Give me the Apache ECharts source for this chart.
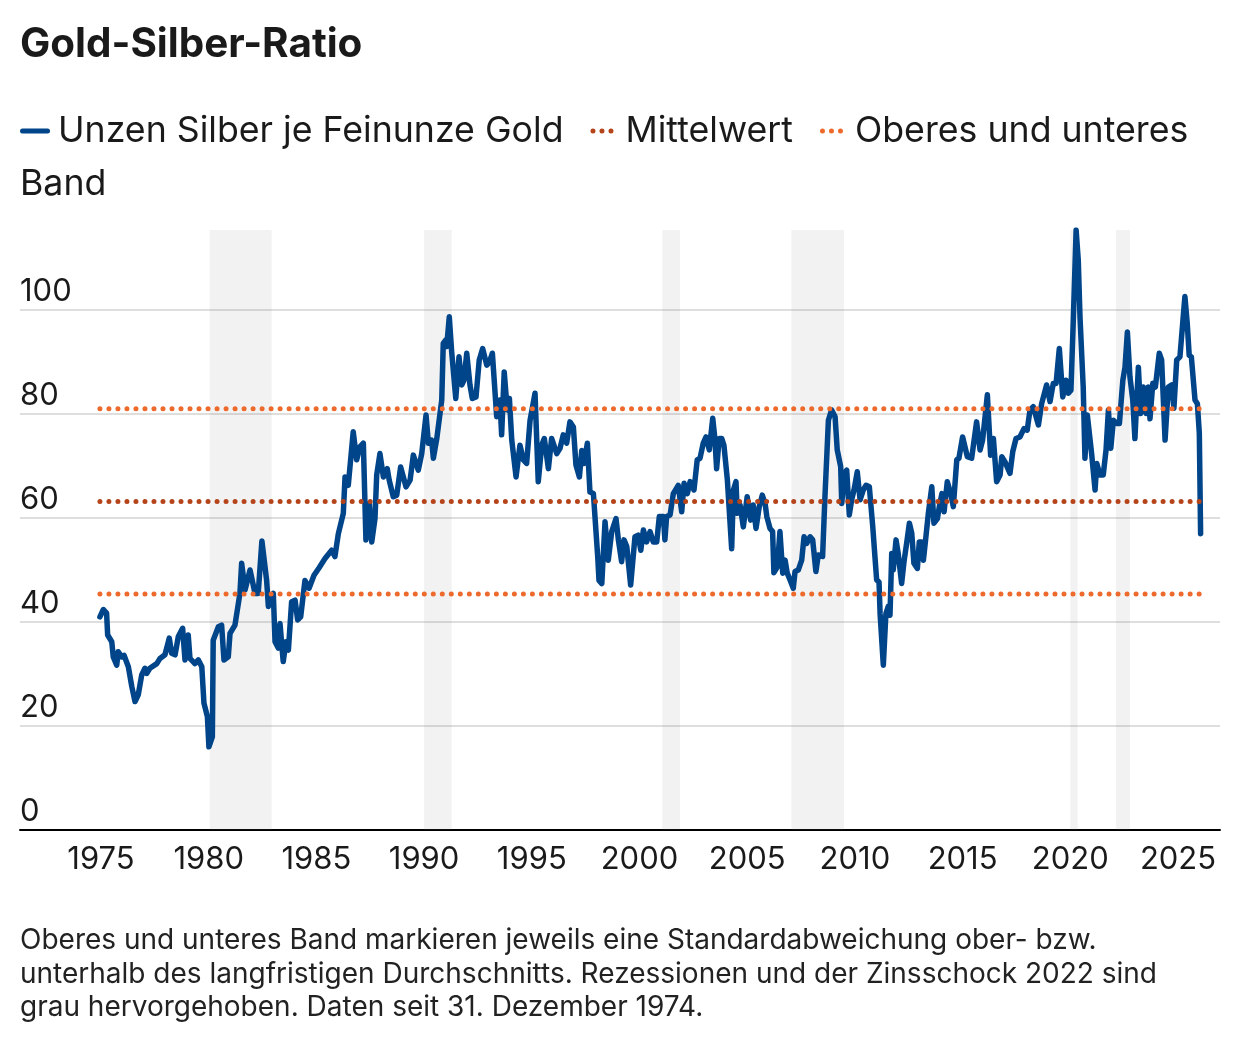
<!DOCTYPE html>
<html>
<head>
<meta charset="utf-8">
<style>
html,body{margin:0;padding:0;background:#fff;}
#chart{width:1240px;height:1046px;}
</style>
<script src="https://cdn.jsdelivr.net/npm/echarts@6/dist/echarts.min.js"></script>
</head>
<body>
<div id="chart"></div>
<script>
// ---- Data ----
const titleText = 'Gold-Silber-Ratio';
const seriesNames = ['Unzen Silber je Feinunze Gold', 'Mittelwert', 'Oberes und unteres Band'];
const footnote = 'Oberes und unteres Band markieren jeweils eine Standardabweichung ober- bzw.\nunterhalb des langfristigen Durchschnitts. Rezessionen und der Zinsschock 2022 sind\ngrau hervorgehoben. Daten seit 31. Dezember 1974.';
const xTickLabels = [1975, 1980, 1985, 1990, 1995, 2000, 2005, 2010, 2015, 2020, 2025];

// decimal year, ounces of silver per ounce of gold
const ratioYears = [
1974.95,1975.11,1975.26,1975.31,1975.50,1975.57,1975.73,1975.80,1975.96,1976.07,1976.27,1976.43,1976.58,1976.73,1976.89,
1977.04,1977.12,1977.27,1977.59,1977.74,1977.97,1978.17,1978.28,1978.44,1978.59,1978.79,1978.90,1979.05,1979.13,1979.36,
1979.52,1979.68,1979.78,1979.94,1980.01,1980.17,1980.21,1980.45,1980.60,1980.71,1980.91,1980.99,1981.22,1981.45,1981.53,
1981.69,1981.92,1982.15,1982.30,1982.47,1982.69,1982.77,1983.00,1983.08,1983.23,1983.31,1983.46,1983.59,1983.70,1983.85,
1984.01,1984.13,1984.27,1984.47,1984.66,1984.89,1985.12,1985.40,1985.71,1985.86,1986.02,1986.25,1986.33,1986.48,1986.71,
1986.87,1987.02,1987.18,1987.30,1987.46,1987.57,1987.72,1987.80,1987.95,1988.11,1988.29,1988.38,1988.57,1988.73,1988.91,
1989.16,1989.35,1989.50,1989.73,1989.89,1990.09,1990.20,1990.35,1990.43,1990.59,1990.82,1990.89,1991.00,1991.05,1991.17,
1991.28,1991.47,1991.62,1991.75,1991.85,1991.98,1992.13,1992.24,1992.41,1992.56,1992.72,1992.91,1993.03,1993.17,1993.37,
1993.52,1993.60,1993.72,1993.86,1993.96,1994.07,1994.27,1994.45,1994.61,1994.76,1994.92,1995.15,1995.30,1995.46,1995.58,
1995.77,1995.92,1996.16,1996.31,1996.46,1996.62,1996.77,1996.93,1997.05,1997.21,1997.32,1997.42,1997.58,1997.70,1997.86,
1998.06,1998.12,1998.25,1998.40,1998.55,1998.71,1998.91,1999.02,1999.17,1999.28,1999.41,1999.59,1999.79,1999.94,2000.06,
2000.18,2000.33,2000.49,2000.64,2000.80,2000.92,2001.11,2001.18,2001.26,2001.42,2001.57,2001.80,2001.96,2002.07,2002.22,
2002.35,2002.53,2002.68,2002.81,2002.96,2003.09,2003.24,2003.40,2003.50,2003.58,2003.70,2003.82,2003.92,2004.08,2004.28,
2004.36,2004.48,2004.54,2004.67,2004.82,2005.00,2005.16,2005.28,2005.41,2005.56,2005.70,2005.83,2005.91,2006.06,2006.18,
2006.24,2006.40,2006.52,2006.65,2006.76,2006.86,2006.99,2007.14,2007.22,2007.37,2007.53,2007.64,2007.76,2007.92,2008.04,
2008.19,2008.30,2008.50,2008.61,2008.77,2008.92,2009.08,2009.18,2009.34,2009.39,2009.51,2009.62,2009.74,2009.85,2009.96,
2010.11,2010.24,2010.39,2010.52,2010.67,2010.83,2010.93,2011.01,2011.12,2011.17,2011.32,2011.44,2011.55,2011.63,2011.71,
2011.78,2011.91,2012.01,2012.17,2012.28,2012.40,2012.53,2012.64,2012.74,2012.90,2012.99,2013.10,2013.18,2013.29,2013.41,
2013.57,2013.67,2013.83,2013.92,2014.04,2014.14,2014.29,2014.45,2014.57,2014.73,2014.83,2015.00,2015.22,2015.42,2015.65,
2015.81,2015.93,2016.15,2016.30,2016.43,2016.58,2016.74,2016.82,2016.97,2017.20,2017.33,2017.48,2017.66,2017.85,2018.00,
2018.13,2018.28,2018.52,2018.67,2018.90,2019.06,2019.21,2019.34,2019.49,2019.65,2019.80,2019.91,2020.03,2020.14,2020.27,
2020.37,2020.45,2020.53,2020.60,2020.68,2020.79,2020.88,2020.99,2021.15,2021.23,2021.38,2021.53,2021.66,2021.77,2021.88,
2022.00,2022.16,2022.28,2022.44,2022.54,2022.65,2022.77,2022.90,2023.00,2023.16,2023.27,2023.39,2023.52,2023.62,2023.70,
2023.83,2023.95,2024.13,2024.24,2024.40,2024.55,2024.71,2024.81,2024.94,2025.09,2025.32,2025.43,2025.52,2025.62,2025.79,
2025.90,2025.99,2026.05
];
const ratioValues = [
41.0,42.4,41.7,37.5,36.2,33.3,31.7,34.3,33.3,33.6,31.4,27.6,24.7,26.0,29.8,
31.1,30.1,31.1,32.0,33.0,33.7,36.9,34.0,33.7,37.2,38.8,32.7,37.5,33.0,32.0,
32.7,31.4,24.4,21.8,16.0,17.9,36.5,39.1,39.4,32.7,33.3,37.8,39.4,45.5,51.3,
46.2,50.0,45.5,45.5,55.6,48.0,43.0,45.5,36.2,35.0,39.7,32.4,36.2,34.6,43.9,
44.2,40.4,41.0,48.0,46.5,49.0,50.4,52.2,53.8,52.6,57.0,60.9,67.9,66.3,76.6,
71.2,73.7,74.4,55.8,62.8,55.4,59.9,68.3,72.4,67.9,69.5,67.3,64.1,64.4,69.8,
66.0,67.3,72.1,69.2,72.4,79.8,74.4,75.0,71.5,75.3,82.7,93.6,94.2,93.0,98.7,
92.0,83.0,91.0,85.6,86.5,91.7,85.6,83.0,83.3,90.4,92.6,89.4,90.0,91.7,79.5,
82.7,76.0,88.1,80.8,83.0,75.0,67.9,74.0,71.2,70.5,78.8,84.0,67.0,74.0,75.3,
69.5,75.3,72.4,73.4,76.0,74.4,78.5,77.5,70.2,67.9,73.0,70.5,74.4,65.0,64.7,
52.6,48.0,47.4,59.3,51.9,57.4,59.9,55.8,51.6,55.8,54.5,47.1,56.4,56.7,53.8,
57.7,55.4,57.4,55.4,55.4,60.3,60.3,55.8,60.3,60.6,64.7,66.3,61.2,66.7,64.7,
67.0,65.4,71.2,71.5,74.4,75.6,73.1,79.2,75.3,69.5,75.3,75.3,74.0,67.3,54.1,
65.4,67.0,60.9,62.5,58.3,64.1,59.6,62.5,58.0,62.2,64.4,62.8,60.3,58.0,57.4,
49.5,50.6,57.4,49.4,51.9,49.4,48.1,46.5,49.7,50.0,51.9,56.4,55.1,56.4,55.8,
49.7,52.9,52.6,64.1,78.8,80.8,79.5,73.1,69.9,62.8,68.6,69.2,60.6,63.5,65.4,
68.9,63.5,65.4,66.3,66.0,58.3,52.6,48.1,47.7,41.6,31.7,41.6,43.0,41.3,53.2,
50.0,55.8,53.2,47.4,51.6,55.1,59.0,57.1,51.3,50.3,55.4,55.4,51.9,56.1,60.9,
66.0,59.0,59.9,62.2,64.7,61.2,67.0,64.7,62.2,71.2,71.5,75.6,71.8,71.5,78.5,
73.1,75.0,83.7,72.1,75.3,67.0,68.3,71.8,70.8,68.6,72.8,75.3,75.6,77.2,76.9,
80.8,81.4,77.9,82.0,85.6,82.4,85.9,85.9,92.6,83.3,86.5,84.0,84.6,98.1,115.4,
109.6,98.7,99.0,85.2,71.5,79.8,79.5,72.4,65.4,70.5,68.3,68.3,73.1,80.8,73.4,
78.8,78.2,78.2,86.5,89.0,95.8,87.1,82.7,75.3,89.0,80.1,85.2,80.1,85.2,79.1,
85.9,85.2,91.7,90.4,75.0,85.2,85.6,81.1,90.4,91.0,102.6,97.4,91.3,91.0,82.7,
82.0,76.3,57.0
];
const meanValue = 63.2;
const upperBand = 81.0;
const lowerBand = 45.4;
// recessions and 2022 rate shock [start, end] in decimal years
const greyPeriods = [
  [1980.05, 1982.92],
  [1990.00, 1991.28],
  [2001.06, 2001.88],
  [2007.05, 2009.49],
  [2020.00, 2020.34],
  [2022.12, 2022.77]
];

// ---- Build ----
const FONT = 'Inter, "Noto Sans", sans-serif';
const TXT = '#1a1a1a';
const firstYear = ratioYears[0];
const lastYear = ratioYears[ratioYears.length - 1];
const ratioData = ratioYears.map((y, i) => [y, ratioValues[i]]);
const flat = v => [[firstYear, v], [lastYear, v]];

const dotStyle = (c) => ({ color: c, width: 5, type: [0.01, 9], cap: 'round' });
const lineIcon = 'path://M2.5,0 L27.5,0 A2.5,2.5 0 0 1 27.5,5 L2.5,5 A2.5,2.5 0 0 1 2.5,0 Z';
const dotsIcon = 'path://M0,0 M3,2.5 A2.5,2.5 0 1 0 8,2.5 A2.5,2.5 0 1 0 3,2.5 Z M12,2.5 A2.5,2.5 0 1 0 17,2.5 A2.5,2.5 0 1 0 12,2.5 Z M21,2.5 A2.5,2.5 0 1 0 26,2.5 A2.5,2.5 0 1 0 21,2.5 Z M30,5';

const chart = echarts.init(document.getElementById('chart'), null, { renderer: 'canvas' });
chart.setOption({
  backgroundColor: '#fff',
  animation: false,
  textStyle: { fontFamily: FONT, color: TXT },
  title: [
    { text: titleText, left: 20, top: 21, padding: 0,
      textStyle: { fontFamily: FONT, fontSize: 40.4, fontWeight: 'bold', color: TXT, lineHeight: 48 } },
    { text: footnote, left: 20, top: 924, padding: 0,
      textStyle: { fontFamily: FONT, fontSize: 28, fontWeight: 'normal', color: '#222', lineHeight: 33.5 } }
  ],
  legend: {
    left: 20, top: 109, padding: 0,
    itemWidth: 30, itemHeight: 5, itemGap: 24,
    selectedMode: false,
    itemStyle: { borderWidth: 0 },
    textStyle: { fontFamily: FONT, fontSize: 35.7, color: TXT, lineHeight: 44, padding: [0, 0, 0, 3] },
    formatter: name => name === seriesNames[2] ? 'Oberes und unteres' : name,
    data: [
      { name: seriesNames[0], icon: lineIcon },
      { name: seriesNames[1], icon: dotsIcon },
      { name: seriesNames[2], icon: dotsIcon }
    ]
  },
  graphic: [
    { type: 'text', x: 20, y: 184,
      style: { text: 'Band', font: '35.7px ' + FONT, fill: TXT, verticalAlign: 'middle', align: 'left' } }
  ],
  grid: { left: 20, right: 20, top: 230, bottom: 216, containLabel: false },
  xAxis: {
    type: 'value', min: 1971.24, max: 2026.95,
    axisLine: { show: true, lineStyle: { color: '#000', width: 2 } },
    axisTick: { show: false },
    splitLine: { show: false },
    axisLabel: {
      customValues: xTickLabels,
      formatter: v => String(v),
      fontFamily: FONT, fontSize: 31, color: TXT, margin: 14, lineHeight: 32
    }
  },
  yAxis: {
    type: 'value', min: 0, max: 115.4, interval: 20,
    axisLine: { show: false },
    axisTick: { show: false },
    splitLine: { show: true, showMaxLine: false, lineStyle: { color: '#d3d3d3', width: 1.5 } },
    axisLabel: {
      inside: true, margin: 0, align: 'left', verticalAlign: 'bottom',
      showMaxLabel: false,
      fontFamily: FONT, fontSize: 31, color: TXT, lineHeight: 32, padding: [0, 0, 2, 0]
    }
  },
  series: [
    {
      name: seriesNames[0], type: 'line', data: ratioData, showSymbol: false, symbol: 'none',
      color: '#00448a',
      lineStyle: { color: '#00448a', width: 5.5, join: 'round', cap: 'round' },
      z: 3,
      markArea: {
        silent: true,
        itemStyle: { color: 'rgba(128,128,128,0.1)' },
        data: greyPeriods.map(p => [{ xAxis: p[0] }, { xAxis: p[1] }])
      }
    },
    {
      name: seriesNames[1], type: 'line', data: flat(meanValue), showSymbol: false, symbol: 'none',
      color: '#b5441a', lineStyle: dotStyle('#b5441a'), z: 4
    },
    {
      name: seriesNames[2], type: 'line', data: flat(upperBand), showSymbol: false, symbol: 'none',
      color: '#ee6a2c', lineStyle: dotStyle('#ee6a2c'), z: 4
    },
    {
      name: seriesNames[2], type: 'line', data: flat(lowerBand), showSymbol: false, symbol: 'none',
      color: '#ee6a2c', lineStyle: dotStyle('#ee6a2c'), z: 4
    }
  ]
});
</script>
</body>
</html>
